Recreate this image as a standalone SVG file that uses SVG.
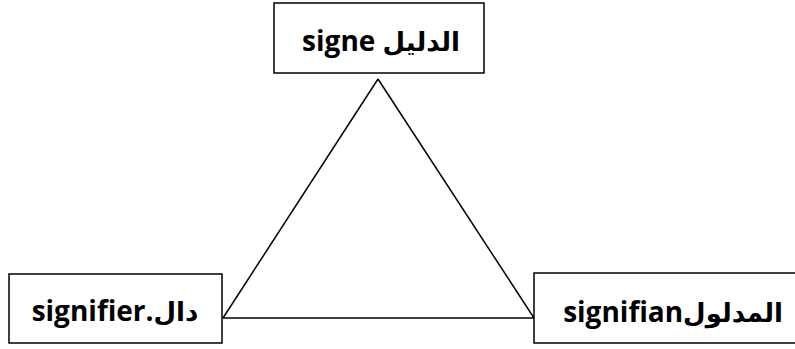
<svg xmlns="http://www.w3.org/2000/svg" width="795" height="349" viewBox="0 0 795 349">
<style>
.box{fill:#fff;stroke:#000;stroke-width:1.5}
.lbl{font-family:"Open Sans","DejaVu Sans",sans-serif;font-weight:bold;font-size:28px;fill:#000;text-anchor:middle}
.ar{font-family:"DejaVu Sans",sans-serif;font-size:26px}
.edge{fill:none;stroke:#000;stroke-width:1.5}
</style>
<rect width="795" height="349" fill="#fff"/>
<g id="connectors">
<line class="edge" x1="378" y1="79" x2="223" y2="318"/>
<line class="edge" x1="378" y1="79" x2="534" y2="318"/>
<line class="edge" x1="223" y1="318" x2="534" y2="318"/>
</g>
<g id="signe">
<rect class="box" x="274" y="3" width="210" height="70"/>
<text class="lbl" x="381" y="51">signe <tspan class="ar">الدليل</tspan></text>
</g>
<g id="signifier">
<rect class="box" x="9" y="274" width="213" height="69"/>
<text class="lbl" x="115" y="321">signifier.<tspan class="ar">دال</tspan></text>
</g>
<g id="signifian">
<rect class="box" x="534" y="273" width="270" height="70"/>
<text class="lbl" x="673" y="322">signifian<tspan class="ar">المدلول</tspan></text>
</g>
</svg>
